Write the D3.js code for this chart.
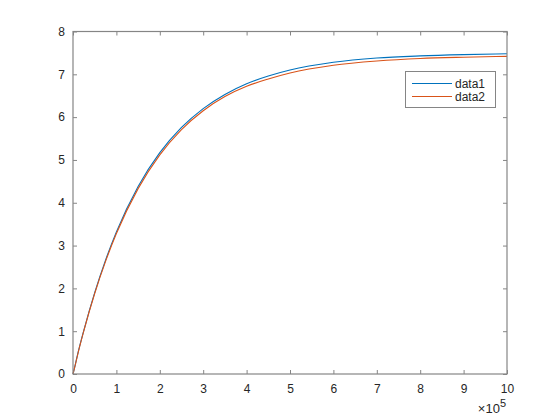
<!DOCTYPE html>
<html>
<head>
    <style>
        body { margin: 0; background: #fff; }
        svg { display: block; }
        text { font-family: "Liberation Sans", Arial, sans-serif; fill: #262626; }
        .tick text { font-size: 12px; }
        .legend text { font-size: 12px; }
    </style>
    <script src="https://d3js.org/d3.v7.min.js"></script>
</head>
<body>
    <svg width="560" height="420"></svg>
    <script>
        // values
        var xs    = [0, 5000, 10000, 25000, 50000, 75000, 100000, 150000, 200000, 250000, 300000, 350000, 400000, 450000, 500000, 600000, 700000, 800000, 900000, 1000000];
        var data1 = [0, 0.21, 0.43, 1.02, 1.90, 2.66, 3.32, 4.38, 5.17, 5.76, 6.20, 6.53, 6.78, 6.96, 7.10, 7.28, 7.38, 7.43, 7.46, 7.48];
        var data2 = [0, 0.20, 0.42, 1.01, 1.88, 2.63, 3.28, 4.33, 5.12, 5.71, 6.15, 6.48, 6.72, 6.89, 7.03, 7.21, 7.31, 7.37, 7.40, 7.42];
        var names  = ["data1", "data2"];
        var colors = ["#0072bd", "#d95319"];
        var xTicks = [0, 1, 2, 3, 4, 5, 6, 7, 8, 9, 10];
        var yTicks = [0, 1, 2, 3, 4, 5, 6, 7, 8];

        var svg = d3.select("svg");
        var pLeft = 73, pRight = 507, pTop = 31.5, pBottom = 374;

        var x = d3.scaleLinear().domain([0, 1e6]).range([pLeft, pRight]);
        var y = d3.scaleLinear().domain([0, 8]).range([pBottom, pTop]);

        var axisColor = "#858585";

        function styleAxis(g) {
            g.select(".domain").remove();
            g.selectAll(".tick line").attr("stroke", axisColor);
            g.selectAll(".tick text").attr("fill", "#262626");
        }

        svg.append("g")
           .attr("transform", "translate(0," + pBottom + ")")
           .call(d3.axisBottom(x).tickValues(xTicks.map(function(d) { return d * 1e5; }))
                 .tickFormat(function(d) { return d / 1e5; }).tickSizeInner(-4).tickPadding(10))
           .call(styleAxis);

        svg.append("g")
           .attr("transform", "translate(0," + pTop + ")")
           .call(d3.axisTop(x).tickValues(xTicks.map(function(d) { return d * 1e5; }))
                 .tickFormat("").tickSizeInner(-4))
           .call(styleAxis);

        svg.append("g")
           .attr("transform", "translate(" + pLeft + ",0)")
           .call(d3.axisLeft(y).tickValues(yTicks).tickSizeInner(-4).tickPadding(8))
           .call(styleAxis);

        svg.append("g")
           .attr("transform", "translate(" + pRight + ",0)")
           .call(d3.axisRight(y).tickValues(yTicks).tickFormat("").tickSizeInner(-4))
           .call(styleAxis);

        var line = d3.line()
                     .x(function(d, i) { return x(xs[i]); })
                     .y(function(d) { return y(d); })
                     .curve(d3.curveMonotoneX);

        [data1, data2].forEach(function(series, i) {
            svg.append("path")
               .attr("d", line(series))
               .attr("fill", "none")
               .attr("stroke", colors[i])
               .attr("stroke-width", 1.1);
        });

        // axes box
        svg.append("rect")
           .attr("x", pLeft).attr("y", pTop)
           .attr("width", pRight - pLeft).attr("height", pBottom - pTop)
           .attr("fill", "none")
           .attr("stroke", axisColor)
           .attr("stroke-width", 1.2);

        // exponent label
        var ex = svg.append("text")
                    .attr("x", pRight - 1).attr("y", 413)
                    .attr("text-anchor", "end")
                    .style("font-size", "13px");
        ex.append("tspan").text("\u00d710");
        ex.append("tspan").attr("dy", -6).style("font-size", "11px").text("5");

        // legend
        var lg = svg.append("g").attr("class", "legend");
        lg.append("rect")
          .attr("x", 405.5).attr("y", 71.5)
          .attr("width", 90).attr("height", 36)
          .attr("fill", "#fff")
          .attr("stroke", axisColor);
        names.forEach(function(n, i) {
            var ly = 83.5 + i * 13;
            lg.append("line")
              .attr("x1", 412).attr("x2", 452)
              .attr("y1", ly).attr("y2", ly)
              .attr("stroke", colors[i]).attr("stroke-width", 1.1);
            lg.append("text")
              .attr("x", 455).attr("y", ly + 4)
              .text(n);
        });
    </script>
</body>
</html>
